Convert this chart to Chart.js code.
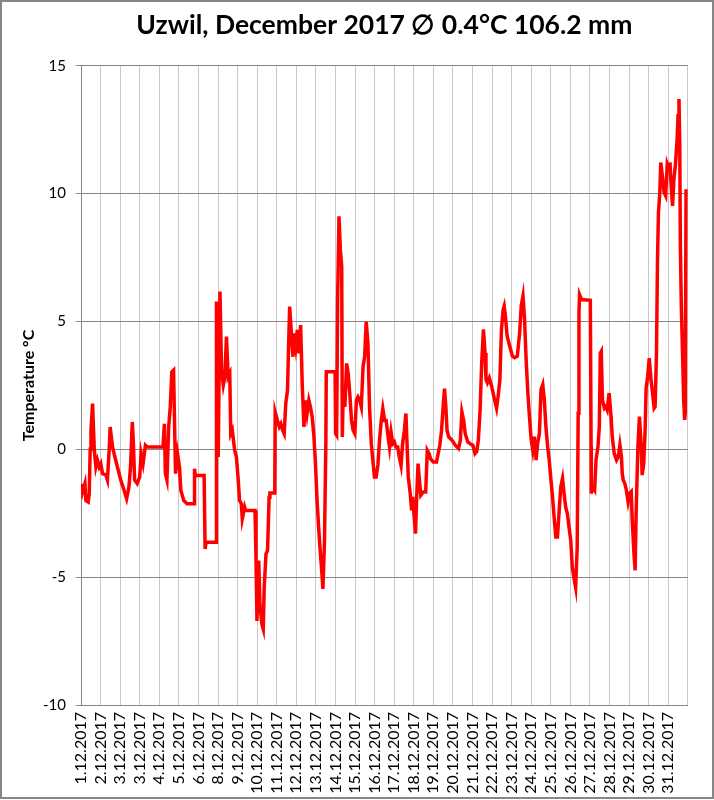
<!DOCTYPE html>
<html>
<head>
<meta charset="utf-8">
<title>Uzwil, December 2017</title>
<script src="https://cdn.jsdelivr.net/npm/chart.js@4.4.1/dist/chart.umd.min.js"></script>
<style>
  html, body { margin: 0; padding: 0; background: #fff; }
  #wrap { width: 714px; height: 800px; }
</style>
</head>
<body>
<div id="wrap"><canvas id="chart" width="714" height="800"></canvas></div>
<script>
// category labels under the x axis (one per grid line, as in the original sheet)
const dayLabels = [
  '1.12.2017', '2.12.2017', '3.12.2017', '3.12.2017', '4.12.2017', '5.12.2017',
  '6.12.2017', '8.12.2017', '9.12.2017', '10.12.2017', '11.12.2017', '12.12.2017',
  '13.12.2017', '14.12.2017', '15.12.2017', '16.12.2017', '17.12.2017', '18.12.2017',
  '19.12.2017', '20.12.2017', '21.12.2017', '22.12.2017', '23.12.2017', '24.12.2017',
  '25.12.2017', '26.12.2017', '27.12.2017', '28.12.2017', '29.12.2017', '30.12.2017',
  '31.12.2017'
];

// position along the axis (label index units) and temperature in °C
const xPos = [
  0.03, 0.08, 0.20, 0.25, 0.37, 0.42, 0.47, 0.51, 0.59, 0.68, 0.76, 0.84, 0.93, 1.01, 1.10, 1.27,
  1.35, 1.44, 1.49, 1.61, 1.69, 1.86, 2.03, 2.20, 2.33, 2.45, 2.53, 2.62, 2.67, 2.74, 2.87, 3.00,
  3.07, 3.17, 3.29, 3.38, 4.19, 4.26, 4.31, 4.39, 4.48, 4.56, 4.64, 4.73, 4.78, 4.83, 4.93, 5.03,
  5.10, 5.20, 5.25, 5.42, 5.79, 5.80, 5.84, 6.29, 6.34, 6.39, 6.90, 6.91, 6.93, 7.01, 7.10, 7.18,
  7.27, 7.35, 7.43, 7.52, 7.60, 7.65, 7.73, 7.85, 7.94, 8.02, 8.10, 8.19, 8.24, 8.36, 8.41, 8.89,
  8.94, 8.99, 9.08, 9.14, 9.24, 9.31, 9.36, 9.45, 9.53, 9.61, 9.65, 9.90, 9.92, 10.03, 10.13, 10.21,
  10.30, 10.38, 10.46, 10.55, 10.60, 10.66, 10.77, 10.83, 10.88, 10.97, 11.05, 11.13, 11.22, 11.27, 11.30, 11.39,
  11.47, 11.55, 11.64, 11.72, 11.81, 11.89, 11.97, 12.06, 12.14, 12.22, 12.31, 12.36, 12.44, 12.51, 12.53, 12.98,
  13.01, 13.06, 13.11, 13.18, 13.25, 13.32, 13.35, 13.40, 13.48, 13.57, 13.65, 13.73, 13.82, 13.90, 13.99, 14.07,
  14.15, 14.24, 14.32, 14.41, 14.49, 14.57, 14.66, 14.74, 14.83, 14.91, 14.99, 15.08, 15.17, 15.25, 15.34, 15.42,
  15.51, 15.59, 15.67, 15.76, 15.84, 15.93, 16.01, 16.09, 16.18, 16.26, 16.35, 16.43, 16.52, 16.60, 16.65, 16.72,
  16.82, 16.89, 16.95, 17.02, 17.09, 17.15, 17.22, 17.29, 17.36, 17.49, 17.61, 17.69, 17.78, 17.86, 18.00, 18.16,
  18.23, 18.33, 18.42, 18.50, 18.57, 18.64, 18.70, 18.79, 18.96, 19.12, 19.29, 19.38, 19.46, 19.55, 19.63, 19.76,
  19.88, 20.02, 20.13, 20.22, 20.30, 20.39, 20.47, 20.56, 20.64, 20.69, 20.76, 20.86, 20.98, 21.09, 21.23, 21.31,
  21.40, 21.48, 21.57, 21.62, 21.68, 21.77, 21.90, 22.04, 22.15, 22.29, 22.41, 22.49, 22.58, 22.66, 22.74, 22.83,
  22.91, 23.00, 23.08, 23.16, 23.25, 23.33, 23.42, 23.50, 23.59, 23.67, 23.75, 23.84, 23.92, 24.01, 24.09, 24.17,
  24.26, 24.34, 24.43, 24.51, 24.60, 24.68, 24.76, 24.85, 24.93, 25.02, 25.10, 25.18, 25.27, 25.35, 25.40, 25.44,
  25.47, 25.57, 26.02, 26.06, 26.07, 26.14, 26.24, 26.31, 26.41, 26.48, 26.53, 26.58, 26.64, 26.74, 26.81, 26.88,
  26.98, 27.08, 27.14, 27.24, 27.36, 27.45, 27.53, 27.61, 27.65, 27.70, 27.78, 27.86, 27.95, 28.03, 28.11, 28.16,
  28.25, 28.31, 28.36, 28.45, 28.53, 28.62, 28.67, 28.75, 28.82, 28.87, 28.95, 29.03, 29.12, 29.20, 29.28, 29.33,
  29.40, 29.45, 29.50, 29.57, 29.62, 29.70, 29.79, 29.87, 29.95, 30.04, 30.09, 30.15, 30.22, 30.29, 30.37, 30.45,
  30.50, 30.55, 30.59, 30.62, 30.67, 30.74, 30.79, 30.84, 30.87, 30.91
];
const tempC = [
  -1.34, -1.67, -1.34, -2.00, -2.06, -1.73, 0.00, 0.74, 1.79, -0.04, -0.69, -0.43, -0.69, -0.56, -0.95, -1.00,
  -1.20, 0.00, 0.87, 0.09, -0.17, -0.69, -1.20, -1.60, -1.93, -1.46, -0.69, 1.07, 0.35, -1.20, -1.34, -1.08,
  -0.17, -0.56, 0.16, 0.09, 0.09, 1.00, -0.95, -1.20, 0.87, 1.66, 3.02, 3.09, 1.00, -0.95, -0.17, -0.69,
  -1.60, -1.87, -2.00, -2.13, -2.13, -0.76, -1.02, -1.02, -3.90, -3.63, -3.63, -0.82, 5.78, -0.30, 6.17, 3.10,
  2.51, 2.84, 4.41, 2.84, 2.97, 0.61, 0.75, -0.04, -0.30, -1.08, -2.00, -2.13, -2.72, -2.26, -2.39, -2.39,
  -4.22, -6.71, -4.35, -6.05, -6.84, -7.03, -5.40, -4.09, -3.96, -1.87, -1.71, -1.71, 1.46, 1.14, 0.88, 1.00,
  0.75, 0.61, 1.79, 2.31, 3.88, 5.58, 4.27, 3.62, 4.54, 4.01, 4.67, 3.75, 4.86, 3.49, 2.58, 0.88,
  1.92, 1.40, 1.92, 1.66, 1.27, 0.61, -0.43, -2.00, -3.05, -3.96, -4.88, -5.46, -3.57, 0.35, 3.03, 3.03,
  0.61, 0.55, 5.84, 9.11, 7.80, 7.15, 0.48, 2.44, 1.66, 3.36, 2.97, 2.18, 1.14, 0.75, 0.61, 1.92,
  2.05, 1.92, 1.66, 3.23, 3.62, 4.99, 4.14, 1.66, 0.22, -0.43, -1.08, -1.08, -0.60, 0.35, 1.13, 1.59,
  1.13, 1.13, 0.61, 0.09, 0.68, 0.22, 0.29, 0.09, 0.09, -0.30, -0.63, 0.22, 0.74, 1.40, 0.35, -1.08,
  -1.73, -2.39, -1.86, -2.65, -3.30, -1.86, -0.56, -1.21, -1.80, -1.67, -1.67, -0.04, -0.17, -0.37, -0.50, -0.50,
  -0.23, 0.16, 0.74, 1.66, 2.37, 1.66, 0.74, 0.48, 0.35, 0.16, 0.03, 0.35, 1.46, 1.13, 0.61, 0.29,
  0.22, 0.16, -0.17, -0.09, 0.37, 1.55, 3.38, 4.69, 3.77, 2.73, 2.60, 2.79, 2.46, 2.07, 1.61, 2.07,
  2.73, 4.69, 5.48, 5.61, 5.22, 4.43, 4.04, 3.64, 3.58, 3.64, 4.56, 5.61, 6.00, 5.09, 3.51, 2.20,
  1.28, 0.37, -0.03, 0.50, -0.42, 0.24, 0.63, 2.33, 2.53, 1.94, 0.89, 0.10, -0.42, -1.21, -1.86, -2.65,
  -3.43, -3.43, -2.39, -1.47, -1.14, -1.73, -2.25, -2.52, -3.04, -3.56, -4.61, -5.00, -5.40, -3.82, 1.41, 5.33,
  6.05, 5.86, 5.83, 0.10, -1.73, -1.46, -1.59, -0.42, 0.10, 0.89, 3.76, 3.83, 1.93, 1.61, 1.67, 1.54,
  2.20, 1.28, 0.50, -0.16, -0.42, -0.29, 0.17, -0.29, -0.94, -1.20, -1.33, -1.59, -2.05, -1.73, -1.66, -2.77,
  -4.08, -4.73, -2.51, 0.10, 1.28, 0.10, -1.01, -0.55, 0.76, 2.39, 2.85, 3.57, 2.72, 2.20, 1.61, 1.67,
  3.76, 7.29, 9.25, 10.04, 11.22, 10.69, 10.04, 9.91, 11.15, 10.95, 11.22, 10.30, 9.52, 10.56, 11.15, 12.07,
  13.05, 13.70, 11.87, 7.95, 5.59, 3.50, 1.93, 1.15, 1.41, 10.17
];

const chartTitle = 'Uzwil, December 2017 \u2205 0.4\u00b0C 106.2 mm';
const yTitle = 'Temperature \u00b0C';

const FONT = "Lato, 'Open Sans', 'Liberation Sans', sans-serif";

const points = xPos.map((x, i) => ({ x: x, y: tempC[i] }));

// white page plus the grey frame round the whole chart
const frame = {
  id: 'frame',
  beforeDraw(chart) {
    const ctx = chart.ctx;
    ctx.save();
    ctx.fillStyle = '#ffffff';
    ctx.fillRect(0, 0, chart.width, chart.height);
    ctx.restore();
  },
  afterDraw(chart) {
    const ctx = chart.ctx;
    ctx.save();
    ctx.strokeStyle = '#868686';
    ctx.lineWidth = 2;
    ctx.strokeRect(1, 1, chart.width - 2, chart.height - 3);
    ctx.restore();
  }
};

new Chart(document.getElementById('chart'), {
  type: 'line',
  data: {
    datasets: [{
      data: points,
      borderColor: '#ff0000',
      borderWidth: 3.5,
      pointRadius: 0,
      tension: 0,
      fill: false
    }]
  },
  options: {
    responsive: false,
    animation: false,
    devicePixelRatio: 1,
    layout: { padding: { left: 0, right: 19, top: 0, bottom: 0 } },
    plugins: {
      legend: { display: false },
      tooltip: { enabled: false },
      title: {
        display: true,
        text: chartTitle,
        fullSize: false,
        color: '#000',
        font: { family: FONT, size: 26.5, weight: 'bold' },
        padding: { top: 10, bottom: 24 }
      }
    },
    scales: {
      x: {
        type: 'linear',
        min: 0,
        max: 31,
        afterFit: (scale) => { scale.height = 95; },
        afterBuildTicks: (scale) => {
          scale.ticks = dayLabels.map((_, i) => ({ value: i })).concat([{ value: 31 }]);
        },
        ticks: {
          autoSkip: false,
          minRotation: 90,
          maxRotation: 90,
          padding: 7,
          color: '#000',
          font: { family: FONT, size: 16 },
          callback: (value) => dayLabels[value] || ''
        },
        grid: { color: '#c8c8c8', lineWidth: 1, drawTicks: false },
        border: { color: '#868686', width: 1 }
      },
      y: {
        min: -10,
        max: 15,
        afterFit: (scale) => { scale.width = 81; },
        ticks: {
          stepSize: 5,
          padding: 10,
          color: '#000',
          font: { family: FONT, size: 15 }
        },
        grid: { color: '#868686', lineWidth: 1, tickLength: 5 },
        border: { color: '#868686', width: 1 },
        title: {
          display: true,
          text: yTitle,
          color: '#000',
          font: { family: FONT, size: 16, weight: 'bold' },
          padding: { top: 19, bottom: 0 }
        }
      }
    }
  },
  plugins: [frame]
});
</script>
</body>
</html>
